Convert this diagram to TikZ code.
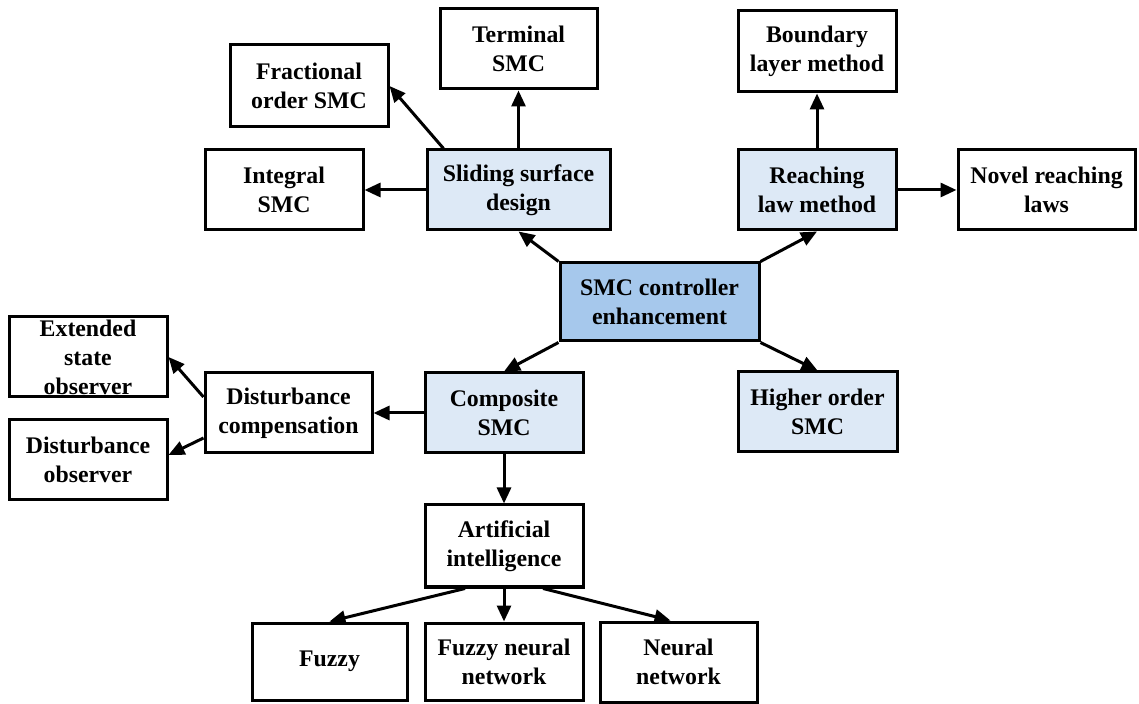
\documentclass[tikz,border=0pt]{standalone}
\usepackage{fontspec}
\setmainfont{Liberation Serif}
\usetikzlibrary{arrows.meta}
\definecolor{hubfill}{RGB}{166,200,236}
\definecolor{branchfill}{RGB}{221,233,246}
\begin{document}
\begin{tikzpicture}[x=0.5pt,y=-0.5pt,
  box/.style 2 args={draw=black,line width=1.5pt,fill=white,align=center,inner sep=0pt,
    minimum width=#1*0.5pt,minimum height=#2*0.5pt,
    font=\fontsize{11.9}{14.5}\selectfont\bfseries},
  branch/.style={fill=branchfill},
  hub/.style={fill=hubfill},
  link/.style={line width=1.5pt,-{Triangle[length=8pt,width=7pt]}}]
\useasboundingbox (0,0) rectangle (1139,704);

% hub
\node[box={199}{78},hub] (c) at (659.5,302) {SMC controller\\enhancement};

% first-level branches
\node[box={183}{80},branch] (slide) at (518.5,190) {Sliding surface\\design};
\node[box={158}{80},branch] (reach) at (817,190) {Reaching\\law method};
\node[box={158}{80},branch] (comp) at (504,413) {Composite\\SMC};
\node[box={159}{80},branch] (higher) at (817.5,412) {Higher order\\SMC};

% sliding surface design
\node[box={157}{80}] (term) at (518.5,49) {Terminal\\SMC};
\node[box={158}{82}] (frac) at (309,86) {Fractional\\order SMC};
\node[box={158}{80}] (integ) at (284,190) {Integral\\SMC};

% reaching law
\node[box={158}{81}] (bound) at (817,51.5) {Boundary\\layer method};
\node[box={177}{80}] (novel) at (1046.5,190) {Novel reaching\\laws};

% composite SMC
\node[box={167}{80}] (dcomp) at (288.5,413) {Disturbance\\compensation};
\node[box={158}{80}] (eso) at (88,357) {Extended\\state\\observer};
\node[box={158}{80}] (dobs) at (88,460) {Disturbance\\observer};
\node[box={158}{82}] (ai) at (504,546) {Artificial\\intelligence};
\node[box={155}{77}] (fuzzy) at (329.5,661.5) {Fuzzy};
\node[box={158}{77}] (fnn) at (504,661.5) {Fuzzy neural\\network};
\node[box={157}{80}] (nn) at (678.5,662) {Neural\\network};

% connectors
\draw[link] (c.north west) -- (slide.south);
\draw[link] (c.north east) -- (reach.south);
\draw[link] (c.south west) -- (comp.north);
\draw[link] (c.south east) -- (higher.north);

\draw[link] (slide.north) -- (term.south);
\draw[link] ([xshift=9pt]slide.north west) -- (frac.east);
\draw[link] (slide.west) -- (integ.east);

\draw[link] (reach.north) -- (bound.south);
\draw[link] (reach.east) -- (novel.west);

\draw[link] (comp.west) -- (dcomp.east);
\draw[link] ([yshift=8pt]dcomp.west) -- (eso.east);
\draw[link] ([yshift=-12.5pt]dcomp.west) -- ([yshift=2.5pt]dobs.east);
\draw[link] (comp.south) -- (ai.north);

\draw[link] ([xshift=-19.5pt]ai.south) -- (fuzzy.north);
\draw[link] (ai.south) -- (fnn.north);
\draw[link] ([xshift=19.5pt]ai.south) -- ([xshift=-4pt]nn.north);
\end{tikzpicture}
\end{document}
